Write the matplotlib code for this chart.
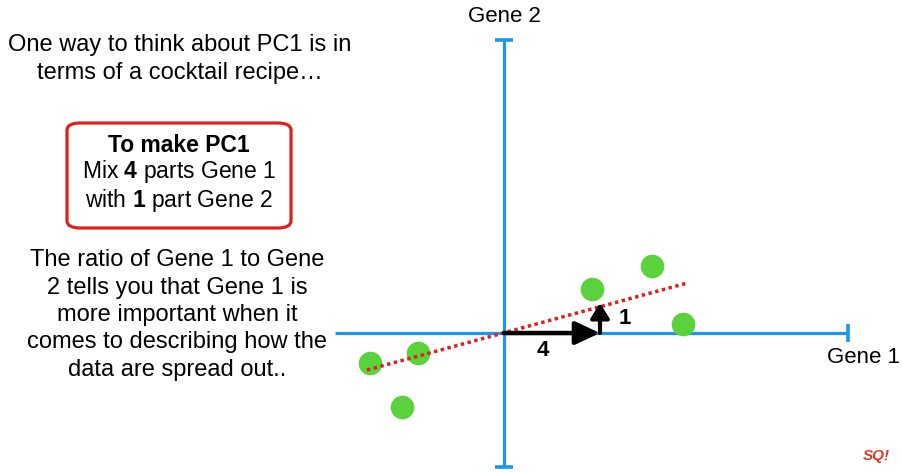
import matplotlib.pyplot as plt
from matplotlib.patches import FancyBboxPatch

plt.rcParams['font.family'] = ['Liberation Sans', 'DejaVu Sans']
plt.rcParams['mathtext.fontset'] = 'custom'
plt.rcParams['mathtext.rm'] = 'Liberation Sans'
plt.rcParams['mathtext.bf'] = 'Liberation Sans:bold'

# data points (gene 1, gene 2), units: arbitrary
gene1 = [-5.58, -3.58, -4.25, 3.67, 6.17, 7.46]
gene2 = [-1.25, -0.83, -3.08, 1.83, 2.79, 0.38]
# PC1 line end points
pc1_x = [-5.71, 7.63]
pc1_y = [-1.54, 2.08]
# recipe: 4 parts gene 1, 1 part gene 2
mix_g1 = 4
mix_g2 = 1.25
# axis extents
xaxis_lim = [-7.04, 14.33]
yaxis_lim = [-5.58, 12.21]

blue = '#1e96ee'
green = '#5ad23c'
red = '#e0201c'

fig = plt.figure(figsize=(9.03, 4.72), dpi=100)
ax = fig.add_axes([0, 0, 1, 1])
ax.set_xlim(-21.0, 16.625)
ax.set_ylim(-5.79, 13.875)
ax.axis('off')

# axes lines with end caps
ax.plot(xaxis_lim, [0, 0], color=blue, lw=2.3, solid_capstyle='butt', zorder=1)
ax.plot([0, 0], yaxis_lim, color=blue, lw=2.3, solid_capstyle='butt', zorder=1)
ax.plot([xaxis_lim[1]], [0], marker='|', ms=13, mew=2.6, color=blue)
ax.plot([0], [yaxis_lim[1]], marker='_', ms=13, mew=2.6, color=blue)
ax.plot([0], [yaxis_lim[0]], marker='_', ms=13, mew=2.6, color=blue)

ax.plot(gene1, gene2, 'o', color=green, ms=17, mec='none', zorder=2)
ax.plot(pc1_x, pc1_y, color=red, lw=2.5, ls=(0, (1, 1)), zorder=3)

ax.annotate('', xy=(mix_g1, 0), xytext=(0, 0),
            arrowprops=dict(arrowstyle='-|>,head_length=0.75,head_width=0.35',
                            lw=3.2, color='black', shrinkA=0, shrinkB=0,
                            mutation_scale=20), zorder=4)
ax.annotate('', xy=(mix_g1, mix_g2), xytext=(mix_g1, 0),
            arrowprops=dict(arrowstyle='-|>,head_length=0.45,head_width=0.28',
                            lw=3.0, color='black', shrinkA=0, shrinkB=0,
                            mutation_scale=20), zorder=4)
ax.text(1.63, -0.71, '4', fontsize=16, fontweight='bold', ha='center', va='center')
ax.text(5.04, 0.6, '1', fontsize=16, fontweight='bold', ha='center', va='center')

ax.text(0, 13.2, 'Gene 2', fontsize=16, ha='center', va='center')
ax.text(15.0, -1.0, 'Gene 1', fontsize=16, ha='center', va='center')

# explanatory text
fig.text(180 / 903, 1 - 59 / 472, 'One way to think about PC1 is in\nterms of a cocktail recipe…',
         fontsize=17, ha='center', va='center', linespacing=1.32)

box = FancyBboxPatch((67 / 903, 1 - 228 / 472), 224 / 903, 105 / 472,
                     boxstyle='round,pad=0,rounding_size=0.015', transform=fig.transFigure,
                     fc='white', ec=red, lw=2.3)
fig.patches.append(box)
fig.text(179 / 903, 1 - 145 / 472, 'To make PC1', fontsize=16.5, fontweight='bold',
         ha='center', va='center')
fig.text(179 / 903, 1 - 172 / 472, r'Mix $\mathbf{4}$ parts Gene 1', fontsize=16.5,
         ha='center', va='center')
fig.text(179 / 903, 1 - 200 / 472, r'with $\mathbf{1}$ part Gene 2', fontsize=16.5,
         ha='center', va='center')

fig.text(177 / 903, 1 - 315 / 472,
         'The ratio of Gene 1 to Gene\n2 tells you that Gene 1 is\nmore important when it\n'
         'comes to describing how the\ndata are spread out..',
         fontsize=17, ha='center', va='center', linespacing=1.31)

fig.text(876 / 903, 1 - 456 / 472, 'SQ!', fontsize=11, fontweight='bold', style='italic',
         color='#d83a2a', ha='center', va='center')

fig.savefig('out.png', dpi=100)
